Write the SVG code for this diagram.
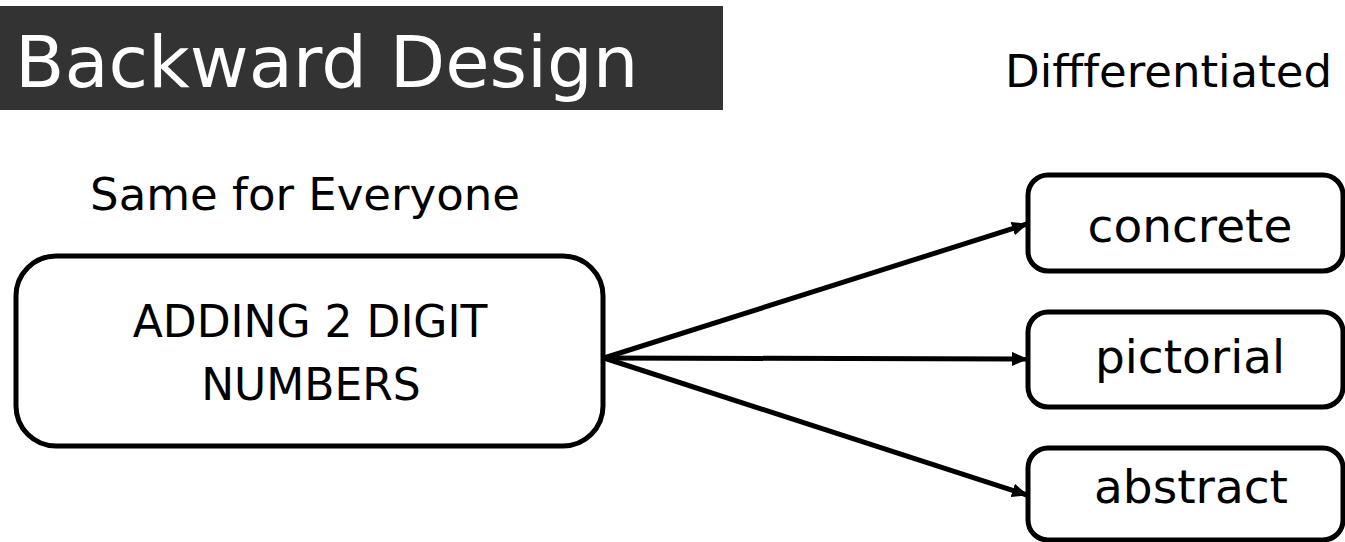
<svg xmlns="http://www.w3.org/2000/svg" width="1345" height="542" viewBox="0 0 1345 542">
  <style>
    .t { font-family: "DejaVu Sans", "Liberation Sans", sans-serif; fill: #000; }
    .box { fill: #fff; stroke: #000; stroke-width: 5; }
    .conn { stroke: #000; stroke-width: 5; fill: none; }
  </style>
  <defs>
    <marker id="arrow" markerUnits="userSpaceOnUse" markerWidth="16" markerHeight="14" refX="15" refY="7" orient="auto">
      <path d="M0,0 L16,7 L0,14 z" fill="#000"/>
    </marker>
  </defs>
  <rect width="1345" height="542" fill="#fff"/>
  <g id="title">
    <rect x="0" y="6" width="723" height="104" fill="#333333"/>
    <text x="15" y="87" font-size="72" class="t" style="fill:#fff">Backward Design</text>
  </g>
  <g id="label-differentiated">
    <text x="1005" y="87" font-size="45" class="t">Diffferentiated</text>
  </g>
  <g id="label-same">
    <text x="305" y="210" font-size="45" class="t" text-anchor="middle">Same for Everyone</text>
  </g>
  <g id="connectors">
    <line class="conn" x1="604" y1="358" x2="1027" y2="224" marker-end="url(#arrow)"/>
    <line class="conn" x1="604" y1="358" x2="1027" y2="359" marker-end="url(#arrow)"/>
    <line class="conn" x1="604" y1="358" x2="1027" y2="495" marker-end="url(#arrow)"/>
  </g>
  <g id="node-main">
    <rect class="box" x="16" y="256" width="587" height="190" rx="40" ry="40"/>
    <text x="310" y="337" font-size="44" class="t" text-anchor="middle">ADDING 2 DIGIT</text>
    <text x="311" y="400" font-size="44" class="t" text-anchor="middle">NUMBERS</text>
  </g>
  <g id="node-concrete">
    <rect class="box" x="1028" y="175" width="315" height="96" rx="20" ry="20"/>
    <text x="1190" y="242" font-size="47" class="t" text-anchor="middle">concrete</text>
  </g>
  <g id="node-pictorial">
    <rect class="box" x="1028" y="312" width="315" height="95" rx="20" ry="20"/>
    <text x="1190" y="373" font-size="47" class="t" text-anchor="middle">pictorial</text>
  </g>
  <g id="node-abstract">
    <rect class="box" x="1028" y="448" width="315" height="92" rx="20" ry="20"/>
    <text x="1191" y="503" font-size="47" class="t" text-anchor="middle">abstract</text>
  </g>
</svg>
